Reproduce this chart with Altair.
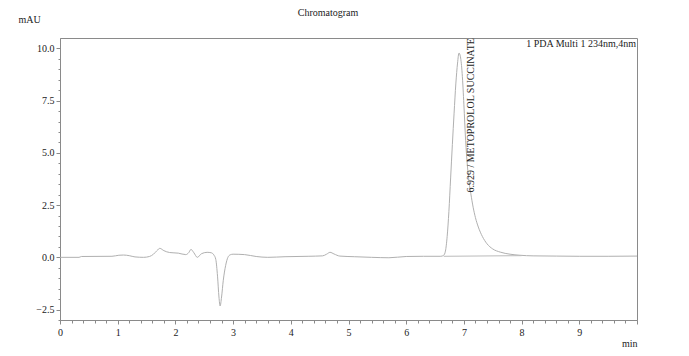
import altair as alt
import pandas as pd

# Chromatogram trace (time in min, signal in mAU)
times = [0.0, 0.33, 0.37, 0.9, 1.02, 1.1, 1.2, 1.3, 1.45, 1.55, 1.62, 1.68, 1.73, 1.8, 1.9,
         2.05, 2.18, 2.23, 2.27, 2.32, 2.38, 2.45, 2.55, 2.62, 2.67, 2.70, 2.73, 2.755, 2.775,
         2.80, 2.83, 2.87, 2.91, 2.95, 3.0, 3.2, 3.4, 3.6, 3.9, 4.3, 4.55, 4.62, 4.68, 4.75,
         4.85, 5.1, 5.4, 5.7, 6.0, 6.3, 6.6, 6.65, 6.68, 6.71, 6.74, 6.77, 6.80, 6.83, 6.86,
         6.89, 6.915, 6.94, 6.97, 7.00, 7.03, 7.06, 7.09, 7.12, 7.16, 7.20, 7.25, 7.32, 7.40,
         7.50, 7.63, 7.80, 7.97, 8.2, 8.6, 9.0, 9.5, 10.0]
signal = [0.0, 0.0, 0.04, 0.05, 0.1, 0.11, 0.08, 0.02, 0.0, 0.04, 0.15, 0.32, 0.43, 0.32, 0.23,
          0.2, 0.13, 0.22, 0.38, 0.22, 0.0, 0.17, 0.24, 0.22, 0.1, -0.1, -0.9, -1.9, -2.33,
          -1.9, -1.1, -0.4, 0.0, 0.12, 0.15, 0.13, 0.04, 0.0, 0.03, 0.05, 0.07, 0.15, 0.24, 0.16,
          0.06, 0.03, 0.0, -0.02, 0.04, 0.05, 0.05, 0.1, 0.3, 1.0, 2.2, 3.8, 5.4, 6.9, 8.3,
          9.3, 9.78, 9.6, 8.8, 7.3, 5.6, 4.4, 3.6, 3.05, 2.4, 1.9, 1.45, 1.0, 0.65,
          0.4, 0.25, 0.15, 0.1, 0.07, 0.06, 0.05, 0.05, 0.06]

# Integration baseline under the peak
base_times = [6.65, 8.0]
base_signal = [0.05, 0.08]

# Peak annotation
peak_label = ["6.929 / METOPROLOL SUCCINATE"]
peak_label_t = [7.12]
peak_label_v = [3.1]

# Detector note
note_text = ["1 PDA Multi 1 234nm,4nm"]
note_t = [10.0]
note_v = [10.19]

chart_title = ["Chromatogram"]

x_ticks = [i / 5 for i in range(51)]
y_ticks = [i / 2 for i in range(-6, 21)]

FONT = "Liberation Serif"
TXT = "#222222"
AX = "#8a8a8a"

df = pd.DataFrame({"t": times, "v": signal})
df_base = pd.DataFrame({"t": base_times, "v": base_signal})
df_lab = pd.DataFrame({"t": peak_label_t, "v": peak_label_v, "txt": peak_label})
df_note = pd.DataFrame({"t": note_t, "v": note_v, "txt": note_text})
df_title = pd.DataFrame({"txt": chart_title})

xscale = alt.Scale(domain=[0, 10], nice=False, zero=False)
yscale = alt.Scale(domain=[-3.0, 10.5], nice=False, zero=False)

x_axis = alt.Axis(
    values=x_ticks,
    labelExpr="datum.value % 1 == 0 && datum.value < 10 ? format(datum.value, 'd') : ''",
    tickSize={"condition": {"test": "datum.value % 1 == 0", "value": 4}, "value": 3},
    grid=False, domainColor=AX, tickColor=AX, labelColor=TXT,
    labelFont=FONT, labelFontSize=10, labelPadding=3, labelOverlap=False, labelFlush=False,
    title="min", titleFont=FONT, titleFontSize=10, titleFontWeight="normal", titleColor=TXT,
    titleAlign="right", titleAnchor="end", titleX=577, titleY=23, titleBaseline="middle",
)
y_axis = alt.Axis(
    values=y_ticks,
    labelExpr="datum.value % 2.5 == 0 ? format(datum.value, '.1f') : ''",
    tickSize={"condition": {"test": "datum.value % 2.5 == 0", "value": 4}, "value": 2},
    grid=False, domainColor=AX, tickColor=AX, labelColor=TXT,
    labelFont=FONT, labelFontSize=10, labelPadding=2, labelOverlap=False, labelFlush=False,
    title="mAU", titleFont=FONT, titleFontSize=10, titleFontWeight="normal", titleColor=TXT,
    titleAngle=0, titleAlign="left", titleX=-42, titleY=-19, titleBaseline="middle",
)

X = alt.X("t:Q", scale=xscale, axis=x_axis)
Y = alt.Y("v:Q", scale=yscale, axis=y_axis)

trace = alt.Chart(df).mark_line(color="#b0b0b0", strokeWidth=1, interpolate="monotone").encode(
    x=X, y=Y,
)
baseline = alt.Chart(df_base).mark_line(color="#bbbbbb", strokeWidth=1).encode(
    x=X, y=Y,
)
label = alt.Chart(df_lab).mark_text(
    angle=270, align="left", baseline="middle", font=FONT, fontSize=10, color=TXT
).encode(
    x=X, y=Y, text="txt:N",
)
note = alt.Chart(df_note).mark_text(
    align="right", baseline="middle", font=FONT, fontSize=10, color=TXT, dx=-1
).encode(
    x=X, y=Y, text="txt:N",
)
title = alt.Chart(df_title).mark_text(
    align="center", baseline="middle", font=FONT, fontSize=10, color=TXT
).encode(
    x=alt.value(268), y=alt.value(-25), text="txt:N",
)

chart = alt.layer(trace, baseline, label, note, title).properties(
    width=577,
    height=282,
    autosize=alt.AutoSizeParams(type="none"),
    padding={"left": 60, "top": 38, "right": 52, "bottom": 36},
    background="white",
).configure_view(stroke=AX, strokeWidth=1)

chart.save("out.html", embed_options={"renderer": "svg", "actions": False})
